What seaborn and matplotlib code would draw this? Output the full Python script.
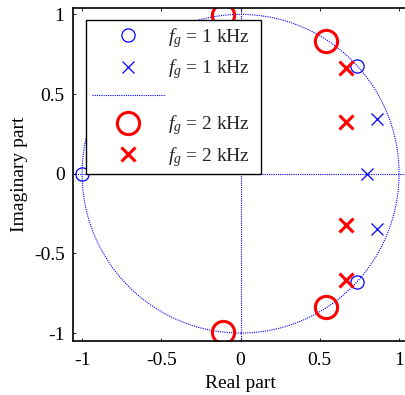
import matplotlib
matplotlib.use("Agg")
import matplotlib.pyplot as plt
import pandas as pd
import seaborn as sns
from matplotlib.patches import Circle

# Zeros and poles of the two filters (fg = 1 kHz and fg = 2 kHz)
zeros_1k_re = [-1.0, 0.734, 0.734]
zeros_1k_im = [0.0, 0.677, -0.677]
poles_1k_re = [0.858, 0.799, 0.858]
poles_1k_im = [0.346, 0.0, -0.346]
zeros_2k_re = [-0.108, 0.542, 0.542, -0.108]
zeros_2k_im = [0.994, 0.836, -0.836, -0.994]
poles_2k_re = [0.664, 0.664, 0.664, 0.664]
poles_2k_im = [0.666, 0.322, -0.322, -0.666]

legend_labels = [r"$f_g$ = 1 kHz", r"$f_g$ = 1 kHz", "", r"$f_g$ = 2 kHz", r"$f_g$ = 2 kHz"]
x_ticks = [-1, -0.5, 0, 0.5, 1]
y_ticks = [-1, -0.5, 0, 0.5, 1]
x_tick_labels = ["-1", "-0.5", "0", "0.5", "1"]
y_tick_labels = ["-1", "-0.5", "0", "0.5", "1"]

sns.set_theme(style="ticks")
plt.rcParams["font.family"] = ["Liberation Serif", "DejaVu Serif"]
plt.rcParams["mathtext.fontset"] = "custom"
plt.rcParams["mathtext.it"] = "Liberation Serif:italic"
plt.rcParams["mathtext.rm"] = "Liberation Serif"
plt.rcParams["axes.unicode_minus"] = False

fig = plt.figure(figsize=(4.05, 3.95), dpi=100)
ax = fig.add_axes([0.180, 0.1367, 0.828, 0.843])

blue = "#0000ff"
red = "#ff0000"

def frame(re, im):
    return pd.DataFrame({"re": re, "im": im})

common = dict(x="re", y="im", estimator=None, sort=False, linestyle="", ax=ax)

sns.lineplot(data=frame(zeros_1k_re, zeros_1k_im), marker="o", markersize=9.5,
             markerfacecolor="none", markeredgecolor=blue, markeredgewidth=0.9,
             color=blue, **common)
sns.lineplot(data=frame(poles_1k_re, poles_1k_im), marker="x", markersize=9,
             markeredgecolor=blue, markeredgewidth=0.9, color=blue, **common)

# Unit circle and the real / imaginary axes
unit = Circle((0, 0), 1.0, fill=False, edgecolor=blue, linewidth=0.8,
              linestyle=(0, (1, 1)), zorder=1.5)
ax.add_patch(unit)
ax.axhline(0, color=blue, linewidth=0.8, linestyle=(0, (1, 1)), zorder=1.5)
ax.axvline(0, color=blue, linewidth=0.8, linestyle=(0, (1, 1)), zorder=1.5)

sns.lineplot(data=frame(zeros_2k_re, zeros_2k_im), marker="o", markersize=16,
             markerfacecolor="none", markeredgecolor=red, markeredgewidth=2.2,
             color=red, **common)
sns.lineplot(data=frame(poles_2k_re, poles_2k_im), marker="x", markersize=10.5,
             markeredgecolor=red, markeredgewidth=2.2, color=red, **common)

lines = ax.get_lines()
point_lines = [ln for ln in lines if ln.get_marker() not in (None, "None", "")]
circle_proxy = matplotlib.lines.Line2D([], [], color=blue, linewidth=0.8,
                                       linestyle=(0, (1, 1)))
handles = [point_lines[0], point_lines[1], circle_proxy, point_lines[2], point_lines[3]]

leg = ax.legend(handles, legend_labels, loc="upper left", mode="expand",
                bbox_to_anchor=(86 / 405, 0.0, 175 / 405, 0.9494),
                bbox_transform=fig.transFigure,
                borderaxespad=0, frameon=True, fancybox=False, framealpha=1,
                edgecolor="black", fontsize=14, numpoints=1, handlelength=3.75,
                handletextpad=0.15, borderpad=0.3, labelspacing=0.38)
leg.get_frame().set_linewidth(1.0)
leg.set_zorder(10)

ax.set_xlim(-1.058, 1.058)
ax.set_ylim(-1.05, 1.04)
ax.set_xticks(x_ticks)
ax.set_xticklabels(x_tick_labels)
ax.set_yticks(y_ticks)
ax.set_yticklabels(y_tick_labels)
ax.tick_params(direction="in", length=2.5, width=0.6, top=True, right=True,
               labelsize=14, colors="black")
ax.tick_params(axis="x", pad=8)
ax.tick_params(axis="y", pad=6)
for s in ax.spines.values():
    s.set_color("black")
    s.set_linewidth(1.2)

ax.set_xlabel("Real part", fontsize=14, color="black", labelpad=4)
ax.set_ylabel("Imaginary part", fontsize=14, color="black", labelpad=4)

fig.savefig("out.png", dpi=100)
